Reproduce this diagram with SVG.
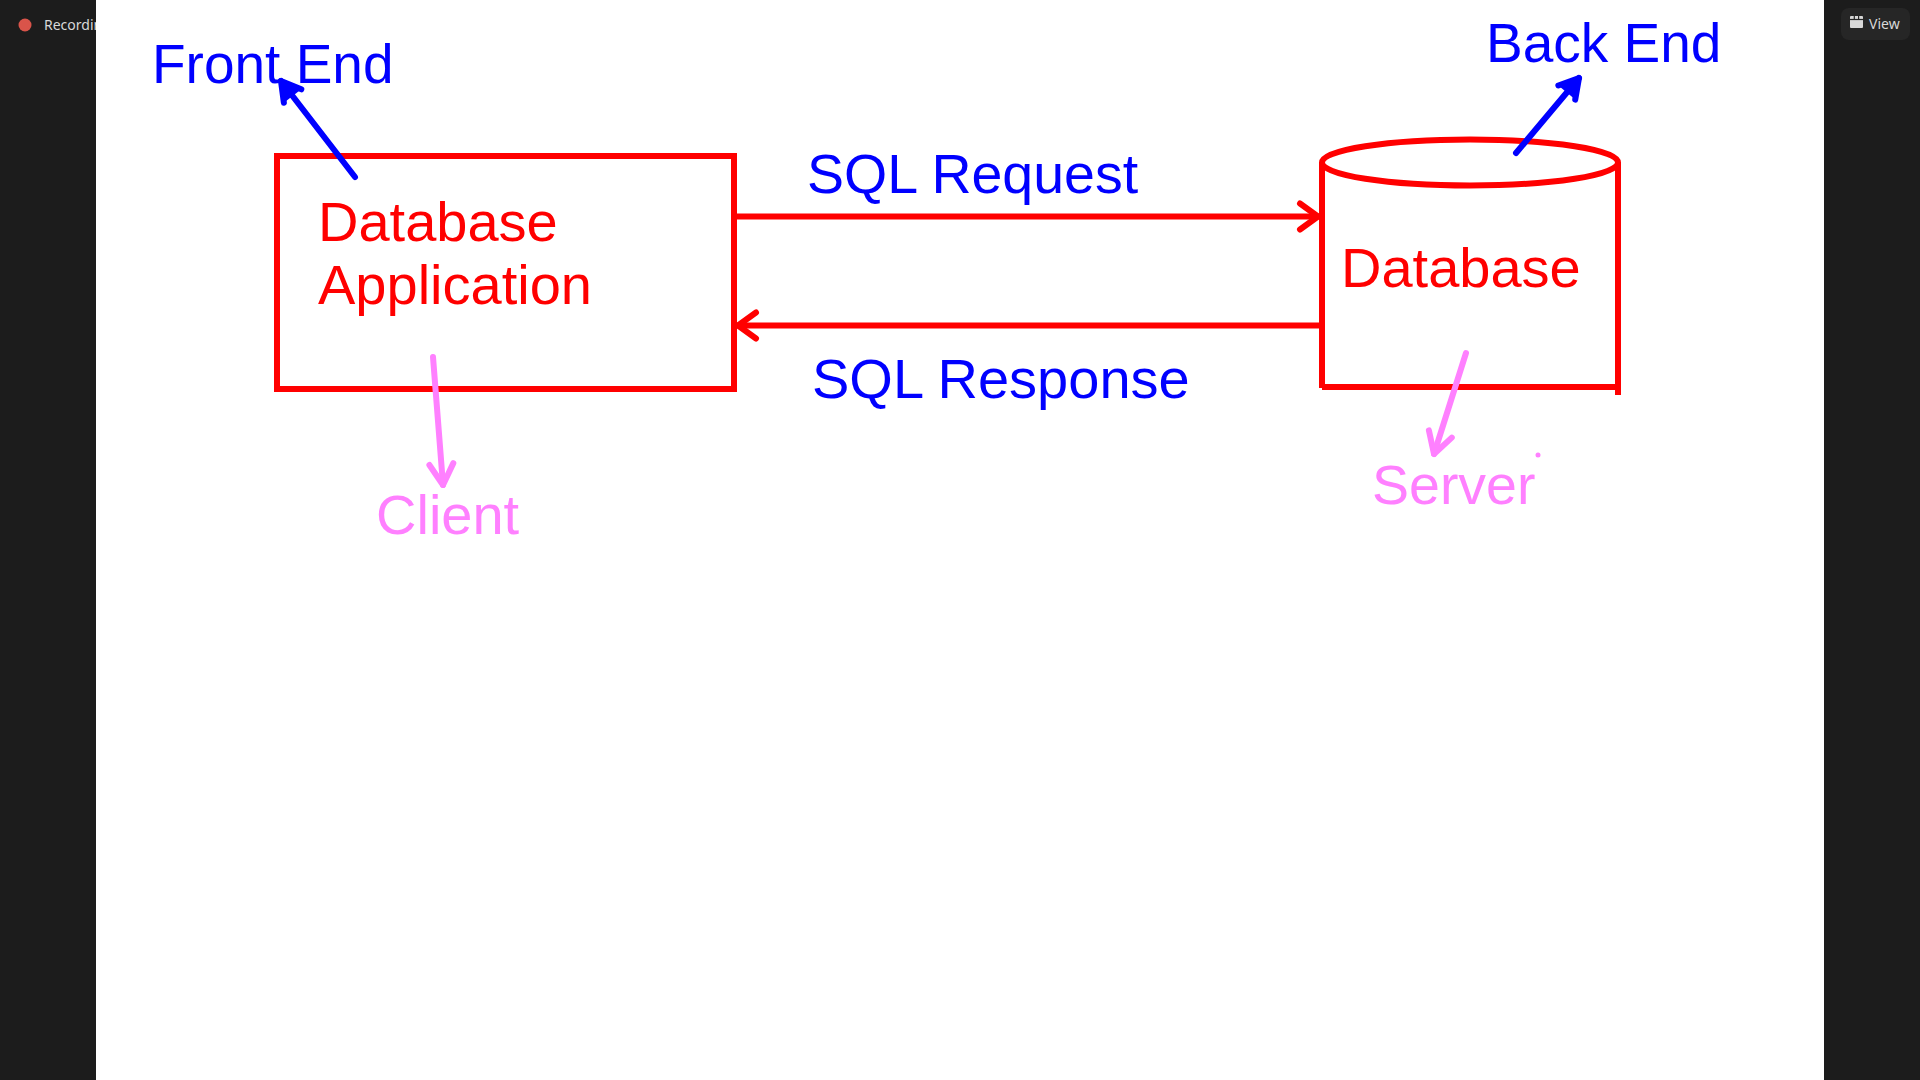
<svg xmlns="http://www.w3.org/2000/svg" width="1920" height="1080" viewBox="0 0 1920 1080">
  <style>
    .lbl { font-family: "Liberation Sans", Arial, sans-serif; }
    .red { fill: #ff0000; }
    .blue { fill: #0000ff; }
    .pink { fill: #ff80ff; }
    .shape { fill: none; stroke: #ff0000; stroke-width: 6; stroke-linejoin: miter; }
    .ui { font-family: "Segoe UI", "Noto Sans", "Open Sans", sans-serif; font-size: 14px; fill: #d8d8d8; }
  </style>
  <defs>
    <marker id="arrRed" markerUnits="userSpaceOnUse" viewBox="-30 -20 40 40" refX="0" refY="0" markerWidth="40" markerHeight="40" orient="auto">
      <path d="M -18 -13 L 0 0 L -18 13" fill="none" stroke="#ff0000" stroke-width="6" stroke-linecap="round" stroke-linejoin="round"/>
    </marker>
    <marker id="arrBlue" markerUnits="userSpaceOnUse" viewBox="-30 -20 40 40" refX="0" refY="0" markerWidth="40" markerHeight="40" orient="auto">
      <path d="M -19 -11 L 0 0 L -19 11" fill="#0000ff" stroke="#0000ff" stroke-width="6" stroke-linecap="round" stroke-linejoin="round"/>
    </marker>
    <marker id="arrPink" markerUnits="userSpaceOnUse" viewBox="-30 -20 40 40" refX="0" refY="0" markerWidth="40" markerHeight="40" orient="auto">
      <path d="M -21 -12 L 0 0 L -21 12" fill="none" stroke="#ff80ff" stroke-width="6" stroke-linecap="round" stroke-linejoin="round"/>
    </marker>
  </defs>

  <!-- window chrome -->
  <rect x="0" y="0" width="1920" height="1080" fill="#1c1c1c"/>
  <circle cx="25" cy="25" r="6.5" fill="#d9544a"/>
  <text class="ui" x="44" y="30" font-size="14.5">Recording</text>
  <rect x="96" y="0" width="1728" height="1080" fill="#ffffff"/>
  <g id="view-button">
    <rect x="1841" y="8" width="69" height="32" rx="8" fill="#262626"/>
    <rect x="1850" y="16" width="13" height="12" rx="1" fill="#d8d8d8"/>
    <line x1="1850" y1="19.5" x2="1863" y2="19.5" stroke="#262626" stroke-width="1.2"/>
    <line x1="1854.3" y1="16" x2="1854.3" y2="19.5" stroke="#262626" stroke-width="1.2"/>
    <line x1="1858.6" y1="16" x2="1858.6" y2="19.5" stroke="#262626" stroke-width="1.2"/>
    <text class="ui" x="1869" y="29">View</text>
  </g>

  <!-- nodes -->
  <g id="app-node">
    <rect class="shape" x="277" y="156" width="457" height="233"/>
    <text class="lbl red" x="318" y="241" font-size="56">Database</text>
    <text class="lbl red" x="318" y="304" font-size="56">Application</text>
  </g>

  <g id="db-node">
    <path class="shape" d="M 1322 162 L 1322 388 M 1322 387 L 1618 387 M 1618 162 L 1618 395"/>
    <ellipse class="shape" cx="1470" cy="162.5" rx="148" ry="23"/>
    <text class="lbl red" x="1341" y="287" font-size="56">Database</text>
  </g>

  <g id="front-end-label">
    <text class="lbl blue" x="152" y="83" font-size="55">Front End</text>
  </g>
  <g id="back-end-label">
    <text class="lbl blue" x="1486" y="62" font-size="55">Back End</text>
  </g>
  <g id="client-label">
    <text class="lbl pink" x="376" y="534" font-size="56">Client</text>
  </g>
  <g id="server-label">
    <text class="lbl pink" x="1372" y="504" font-size="55.5">Server</text>
    <circle cx="1538" cy="455" r="2.5" fill="#ff80ff"/>
  </g>

  <g id="request-label">
    <text class="lbl blue" x="807" y="193" font-size="55.5">SQL Request</text>
  </g>
  <g id="response-label">
    <text class="lbl blue" x="812" y="398" font-size="56">SQL Response</text>
  </g>

  <!-- connectors -->
  <g id="connectors" fill="none" stroke-linecap="round">
    <line x1="737" y1="216.5" x2="1318" y2="216.5" stroke="#ff0000" stroke-width="6" marker-end="url(#arrRed)"/>
    <line x1="1319" y1="325.5" x2="738" y2="325.5" stroke="#ff0000" stroke-width="6" marker-end="url(#arrRed)"/>
    <line x1="355" y1="177" x2="281" y2="81" stroke="#0000ff" stroke-width="6" marker-end="url(#arrBlue)"/>
    <line x1="1516" y1="153" x2="1579" y2="78" stroke="#0000ff" stroke-width="6" marker-end="url(#arrBlue)"/>
    <line x1="433" y1="357" x2="443" y2="485" stroke="#ff80ff" stroke-width="6" marker-end="url(#arrPink)"/>
    <line x1="1466" y1="353" x2="1434" y2="454" stroke="#ff80ff" stroke-width="6" marker-end="url(#arrPink)"/>
  </g>
</svg>
